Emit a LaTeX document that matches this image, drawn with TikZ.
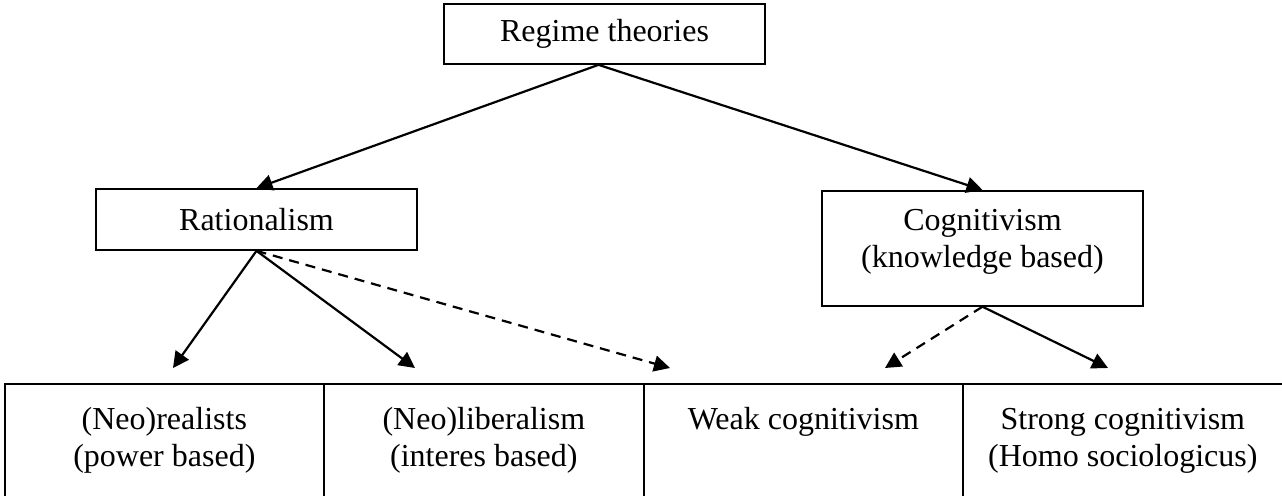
\documentclass[tikz,border=0pt]{standalone}
\usepackage{fontspec}
\setmainfont{Liberation Serif}
\usetikzlibrary{arrows.meta}
\newcommand{\toptext}[3]{\parbox[t][#1][t]{159.5pt}{\centering\rule{0pt}{#2}#3}}

\begin{document}
\begin{tikzpicture}[x=0.5pt, y=-0.5pt, font=\fontsize{16}{18.5}\selectfont,
  box/.style={draw, line width=0.85pt, inner sep=0pt, minimum width=160.5pt},
  cell/.style={draw, line width=0.85pt, inner sep=0pt, anchor=north west},
  link/.style={line width=1.1pt, -{Triangle[length=8pt, width=8pt]}},
  maybe/.style={link, dash pattern=on 5pt off 3.5pt}]
\useasboundingbox (0,0) rectangle (1282,496);
% upper boxes
\node[box, minimum height=30pt] (regime) at (604.5,34) {Regime theories};
\node[box, minimum height=30.5pt] (rational) at (256.5,219.5) {Rationalism};
\node[box, anchor=north] (cognit) at (982.5,190)
    {\toptext{57.5pt}{20pt}{Cognitivism\\(knowledge based)}};
% bottom row
\node[cell] (realist) at (4,383) {\toptext{70pt}{23pt}{(Neo)realists\\(power based)}};
\node[cell] (liberal) at (323.5,383) {\toptext{70pt}{23pt}{(Neo)liberalism\\(interes based)}};
\node[cell] (weakcog) at (643,383) {\toptext{70pt}{23pt}{Weak cognitivism}};
\node[cell] (strongcog) at (962.5,383) {\toptext{70pt}{23pt}{Strong cognitivism\\(Homo sociologicus)}};
% arrow ends above the row
\coordinate (toReal) at (173,368);
\coordinate (toLib) at (415,368);
\coordinate (toWeakR) at (670,368);
\coordinate (toWeakC) at (885,368);
\coordinate (toStrong) at (1108,368);
\draw[link] ([xshift=-3pt]regime.south) -- (rational.north);
\draw[link] ([xshift=-3pt]regime.south) -- (cognit.north);
\draw[link] (rational.south) -- (toReal);
\draw[link] (rational.south) -- (toLib);
\draw[maybe] (rational.south) -- (toWeakR);
\draw[maybe] (cognit.south) -- (toWeakC);
\draw[link] (cognit.south) -- (toStrong);
\end{tikzpicture}
\end{document}
